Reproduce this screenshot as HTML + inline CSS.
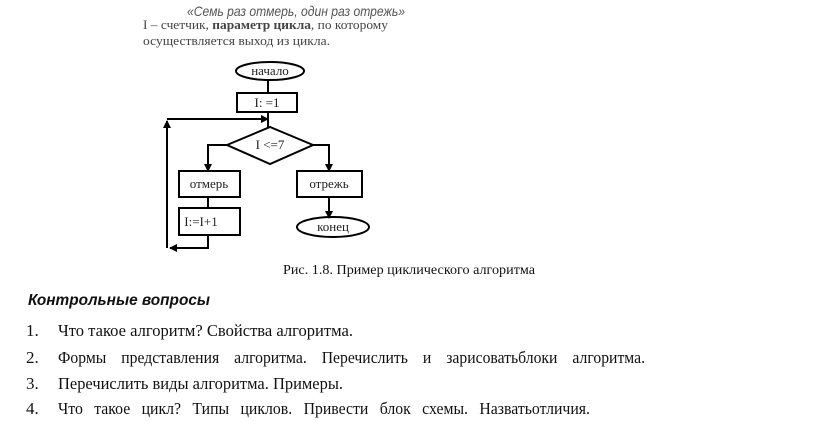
<!DOCTYPE html>
<html><head><meta charset="utf-8"><style>
html,body{margin:0;padding:0;background:#fff;width:816px;height:421px;overflow:hidden}
svg{display:block}
</style></head><body>
<svg width="816" height="421" viewBox="0 0 816 421" xmlns="http://www.w3.org/2000/svg">
<defs><marker id="a" markerWidth="8" markerHeight="8" refX="7" refY="4" orient="auto" markerUnits="userSpaceOnUse"><path d="M0,0 L8,4 L0,8z" fill="#000"/></marker></defs>
<g font-family="Liberation Serif, serif" fill="#333">
<text x="187" y="16" font-family="Liberation Sans, sans-serif" font-style="italic" font-size="14" fill="#555" textLength="218" lengthAdjust="spacingAndGlyphs">«Семь раз отмерь, один раз отрежь»</text>
<text x="143" y="29" font-size="13" fill="#444" textLength="245" lengthAdjust="spacingAndGlyphs">I – счетчик, <tspan font-weight="bold">параметр цикла</tspan>, по которому</text>
<text x="143" y="45" font-size="13" fill="#444" textLength="187" lengthAdjust="spacingAndGlyphs">осуществляется выход из цикла.</text>
</g>
<g stroke="#000" stroke-width="2" fill="none">
<ellipse cx="270" cy="71" rx="34" ry="9"/>
<line x1="268" y1="80" x2="268" y2="93"/>
<rect x="237" y="93" width="60" height="19"/>
<line x1="268" y1="112" x2="268" y2="127"/>
<polygon points="227,145 270,127 313,145 270,164"/>
<polyline points="227,145 208,145 208,171" marker-end="url(#a)"/>
<polyline points="313,145 329,145 329,171" marker-end="url(#a)"/>
<rect x="179" y="171" width="61" height="26"/>
<rect x="297" y="171" width="65" height="26"/>
<line x1="208" y1="197" x2="208" y2="208"/>
<rect x="179" y="208" width="61" height="27"/>
<polyline points="208,235 208,248 170,248" marker-end="url(#a)"/>
<line x1="167" y1="248" x2="167" y2="121" marker-end="url(#a)"/>
<line x1="167" y1="119" x2="268" y2="119" marker-end="url(#a)"/>
<line x1="268" y1="114" x2="268" y2="124"/>
<line x1="329" y1="197" x2="329" y2="218" marker-end="url(#a)"/>
<ellipse cx="333" cy="227" rx="36" ry="10"/>
</g>
<g font-family="Liberation Serif, serif" font-size="13" fill="#222" text-anchor="middle">
<text x="270" y="75">начало</text>
<text x="267" y="107">I: =1</text>
<text x="270" y="149">I &lt;=7</text>
<text x="209" y="188">отмерь</text>
<text x="329" y="188">отрежь</text>
<text x="201" y="226">I:=I+1</text>
<text x="333" y="231">конец</text>
</g>
<g font-family="Liberation Serif, serif" fill="#111">
<text x="283" y="274" font-size="14" textLength="252" lengthAdjust="spacingAndGlyphs">Рис. 1.8. Пример циклического алгоритма</text>
<text x="28" y="305" font-family="Liberation Sans, sans-serif" font-weight="bold" font-style="italic" font-size="16" textLength="182" lengthAdjust="spacingAndGlyphs">Контрольные вопросы</text>
<g font-size="17">
<text x="26" y="336">1.</text><text x="58" y="336" textLength="295" lengthAdjust="spacingAndGlyphs">Что такое алгоритм? Свойства алгоритма.</text>
<text x="26" y="363">2.</text>
<text x="58" y="363" word-spacing="12" textLength="587" lengthAdjust="spacingAndGlyphs">Формы представления алгоритма. Перечислить и зарисоватьблоки алгоритма.</text>
<text x="26" y="389">3.</text><text x="58" y="389" textLength="285" lengthAdjust="spacingAndGlyphs">Перечислить виды алгоритма. Примеры.</text>
<text x="26" y="414">4.</text>
<text x="58" y="414" word-spacing="8" textLength="532" lengthAdjust="spacingAndGlyphs">Что такое цикл? Типы циклов. Привести блок схемы. Назватьотличия.</text>
</g>
</g>
</svg>
</body></html>
